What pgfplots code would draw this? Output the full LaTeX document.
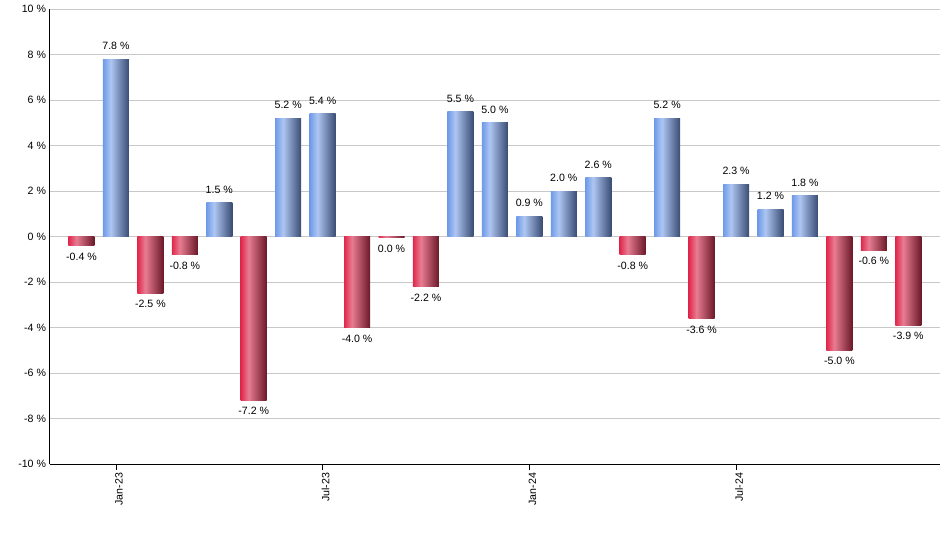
\documentclass[border=0pt]{standalone}
\usepackage{fontspec}
\setmainfont{Liberation Sans}
\usepackage{pgfplots}
\pgfplotsset{compat=1.18}

\definecolor{bL}{HTML}{6E9AE8}
\definecolor{bH}{HTML}{AEC6F2}
\definecolor{bD}{HTML}{394C73}
\definecolor{rL}{HTML}{E0284C}
\definecolor{rH}{HTML}{E87C92}
\definecolor{rD}{HTML}{6A1828}
\definecolor{gridgray}{HTML}{C8C8C8}

\pgfdeclarehorizontalshading{bluebar}{100bp}{color(0bp)=(bL); color(25bp)=(bL); color(40bp)=(bH); color(75bp)=(bD); color(100bp)=(bD)}
\pgfdeclarehorizontalshading{redbar}{100bp}{color(0bp)=(rL); color(25bp)=(rL); color(40bp)=(rH); color(75bp)=(rD); color(100bp)=(rD)}

\pgfplotsset{
  upbar/.style={draw=none,shading=bluebar,
    every node near coord/.append style={anchor=south,yshift=9pt}},
  downbar/.style={draw=none,shading=redbar,
    every node near coord/.append style={anchor=north,yshift=-7pt}},
}
% one plot per bar so each bar gets its own shading
\newcommand\up[3]{\addplot[upbar] coordinates {(#1,#2) [#3]};}
\newcommand\down[3]{\addplot[downbar] coordinates {(#1,#2) [#3]};}

\begin{document}
\begin{tikzpicture}[x=1pt,y=1pt]
\useasboundingbox (0,0) rectangle (940,550);
\begin{axis}[
  at={(50pt,86pt)},anchor=south west,
  scale only axis,width=890pt,height=455pt,
  xmin=-0.914,xmax=24.92,ymin=-10,ymax=10,
  axis x line*=bottom,axis y line*=left,
  axis line style={black,line width=1pt},
  ybar,bar width=26pt,bar shift=0pt,
  ytick={-10,-8,...,10},
  yticklabels={-10 \%,-8 \%,-6 \%,-4 \%,-2 \%,0 \%,2 \%,4 \%,6 \%,8 \%,10 \%},
  ymajorgrids,major grid style={gridgray,line width=0.8pt},
  ytick style={draw=none},
  y tick label style={xshift=5pt},
  xtick={1,7,13,19},
  xticklabels={Jan-23,Jul-23,Jan-24,Jul-24},
  x tick label style={rotate=90,anchor=east,yshift=-3pt},
  xtick style={black,line width=0.8pt},
  tick align=outside,major tick length=5.5pt,
  tick label style={font=\fontsize{10.6}{12}\selectfont},
  /pgf/number format/assume math mode=true,
  point meta=explicit symbolic,
  nodes near coords,
  every node near coord/.append style={font=\fontsize{10.6}{12}\selectfont,inner sep=0pt,black},
  clip=false,
]
\down{0}{-0.4}{-0.4 \%}
\up{1}{7.8}{7.8 \%}
\down{2}{-2.5}{-2.5 \%}
\down{3}{-0.8}{-0.8 \%}
\up{4}{1.5}{1.5 \%}
\down{5}{-7.2}{-7.2 \%}
\up{6}{5.2}{5.2 \%}
\up{7}{5.4}{5.4 \%}
\down{8}{-4.0}{-4.0 \%}
\down{9}{-0.05}{0.0 \%}
\down{10}{-2.2}{-2.2 \%}
\up{11}{5.5}{5.5 \%}
\up{12}{5.0}{5.0 \%}
\up{13}{0.9}{0.9 \%}
\up{14}{2.0}{2.0 \%}
\up{15}{2.6}{2.6 \%}
\down{16}{-0.8}{-0.8 \%}
\up{17}{5.2}{5.2 \%}
\down{18}{-3.6}{-3.6 \%}
\up{19}{2.3}{2.3 \%}
\up{20}{1.2}{1.2 \%}
\up{21}{1.8}{1.8 \%}
\down{22}{-5.0}{-5.0 \%}
\down{23}{-0.6}{-0.6 \%}
\down{24}{-3.9}{-3.9 \%}
\end{axis}
\end{tikzpicture}
\end{document}
